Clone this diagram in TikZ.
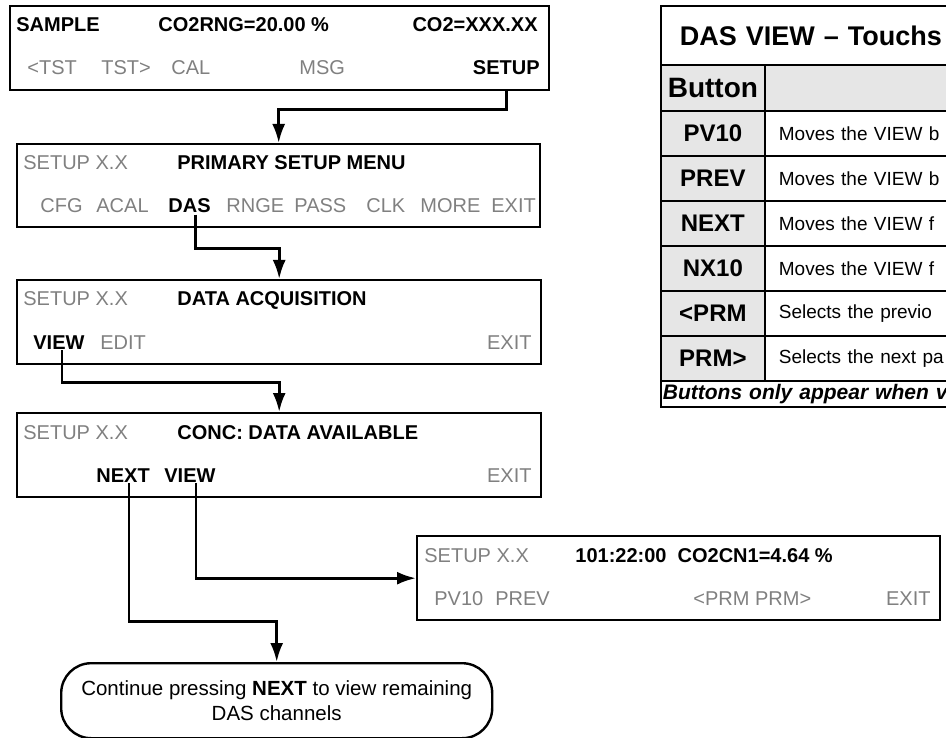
\documentclass[tikz,border=0pt]{standalone}
\usepackage{fontspec}
\setmainfont{Liberation Sans}
\usetikzlibrary{arrows.meta,positioning,calc}
\definecolor{lcdgray}{RGB}{128,128,128}
\definecolor{cellgray}{RGB}{230,230,230}

\begin{document}
\begin{tikzpicture}[x=1pt, y=-1pt, >={Latex[length=19pt,width=13pt]}, line width=2.8pt,
  every node/.style={font=\fontsize{20}{24}\selectfont, inner sep=0pt},
  lcd/.style={draw, line width=2.4pt, anchor=north west, minimum height=84pt},
  dim/.style={anchor=base west, text=lcdgray},
  key/.style={anchor=base west, font=\fontsize{20}{24}\selectfont\bfseries},
  tcell/.style={draw, line width=1.8pt, anchor=north west, minimum height=45pt},
  btn/.style={tcell, fill=cellgray, minimum width=104pt, font=\fontsize{24}{28}\selectfont\bfseries},
  desc/.style={tcell, fill=white, text width=300pt, inner xsep=14pt, align=left,
    font=\fontsize{19}{24}\selectfont}]
\useasboundingbox (0,0) rectangle (946,738);
\clip (0,0) rectangle (946,738);

\node[lcd, minimum width=539pt] (b1) at (9,5) {};
\node[key] (k1sample) at (15,32) {SAMPLE};
\node[key] (k1range) at (157,32) {CO2RNG=20.00 \%};
\node[key, anchor=base east] (k1conc) at (539,32) {CO2=XXX.XX};
\foreach \w/\x [count=\i] in {<TST/26, TST>/100, CAL/170, MSG/298}
  \node[dim] (m1\i) at (\x,75) {\w};
\node[key, anchor=base east] (k1setup) at (541,75) {SETUP};

\node[lcd, minimum width=523pt, minimum height=83pt] (b2) at (16,143) {};
\node[dim] (s2) at (22,170) {SETUP X.X};
\node[key] (k2title) at (176,170) {PRIMARY SETUP MENU};
\foreach \w/\x [count=\i] in {CFG/39, ACAL/95, RNGE/225, PASS/293, CLK/365, MORE/419, EXIT/490}
  \node[dim] (m2\i) at (\x,213) {\w};
\node[key] (k2das) at (167,213) {DAS};

\node[lcd, minimum width=524pt] (b3) at (16,279) {};
\node[dim] (s3) at (22,306) {SETUP X.X};
\node[key] (k3title) at (176,306) {DATA ACQUISITION};
\node[key] (k3view) at (32,349) {VIEW};
\node[dim] (m3edit) at (99,349) {EDIT};
\node[dim, anchor=base east] (m3exit) at (533,349) {EXIT};

\node[lcd, minimum width=524pt] (b4) at (16,412) {};
\node[dim] (s4) at (22,439) {SETUP X.X};
\node[key] (k4title) at (176,439) {CONC: DATA AVAILABLE};
\node[key] (k4next) at (95,482) {NEXT};
\node[key] (k4view) at (163,482) {VIEW};
\node[dim, anchor=base east] (m4exit) at (533,482) {EXIT};

\node[lcd, minimum width=523pt] (b5) at (416,535) {};
\node[dim] (s5) at (423,562) {SETUP X.X};
\node[key] (k5rec) at (574,562) {101:22:00\ \ CO2CN1=4.64 \%};
\node[dim] (m5prev) at (433,605) {PV10\hspace{12pt}PREV};
\node[dim] (m5prm) at (692,605) {<PRM PRM>};
\node[dim, anchor=base east] (m5exit) at (932,605) {EXIT};

\node[draw, line width=2.4pt, rounded corners=30pt, anchor=north west, minimum width=431pt,
  minimum height=75pt, align=center, font=\fontsize{20.5}{25}\selectfont] (term) at (60,662)
  {Continue pressing \textbf{NEXT} to view remaining\\DAS channels};

\draw[->] (b1.south -| k1setup) -- ++(0,18) -| (b2.north);
\draw[->] ([xshift=6pt]k2das.south) -- ([xshift=6pt]k2das.south |- b2.south) -- ++(0,20) -| (b3.north);
\draw[->] ([xshift=3pt]k3view.south) -- ([xshift=3pt]k3view.south |- b3.south) -- ++(0,17) -| (b4.north);
\draw[->] ([xshift=6pt]k4view.south) |- (b5.west);
\draw[->] ([xshift=6pt]k4next.south) -- ([xshift=6pt]k4next.south |- b5.south) -| (term.north);

\node[tcell, minimum height=59pt, text width=400pt, inner xsep=19pt, align=left,
  font=\fontsize{27}{30}\selectfont\bfseries] (title) at (660,5) {DAS VIEW \textendash{} Touchs};
\node[btn, minimum height=46pt, font=\fontsize{28}{32}\selectfont\bfseries] (hbtn) at (660,64) {Button};
\node[tcell, fill=cellgray, minimum height=46pt, minimum width=350pt] (hdesc) at (764,64) {};
\foreach \k/\d [count=\i from 0] in {PV10/Moves the VIEW b, PREV/Moves the VIEW b,
    NEXT/Moves the VIEW f, NX10/Moves the VIEW f, <PRM/Selects the previo, PRM>/Selects the next pa} {
  \node[btn] (r\i) at (660,110+45*\i) {\k};
  \node[desc] (d\i) at (764,110+45*\i) {\d};
}
\node[tcell, minimum height=26pt, text width=400pt, inner xsep=2pt, align=left,
  font=\fontsize{21}{24}\selectfont\bfseries\itshape] (foot) at (660,380) {Buttons only appear when v};
\end{tikzpicture}
\end{document}
